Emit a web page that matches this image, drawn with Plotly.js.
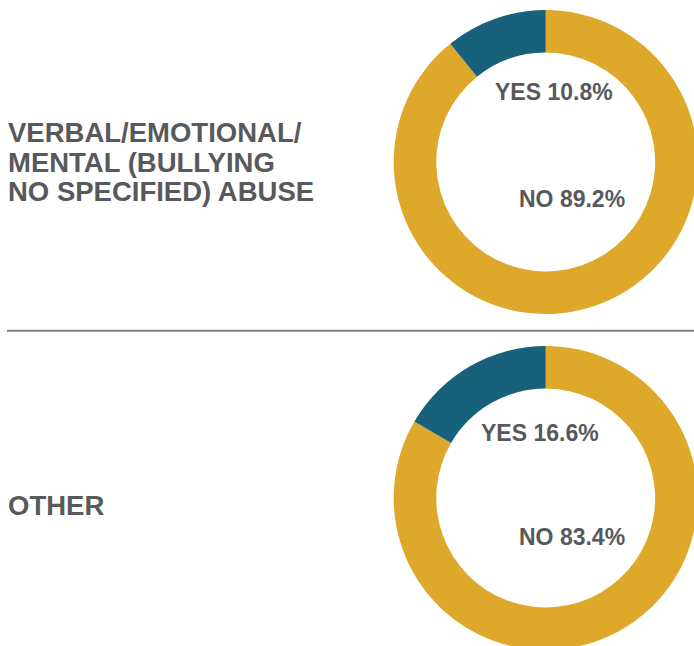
<!DOCTYPE html>
<html>
<head>
<meta charset="utf-8">
<script src="https://cdn.plot.ly/plotly-3.0.1.min.js"></script>
<style>
  html, body { margin: 0; padding: 0; overflow: hidden; background: #ffffff; }
  #chart { width: 700px; height: 660px; }
</style>
</head>
<body>
<div id="chart"></div>
<script>
// Data
const categories = ["VERBAL/EMOTIONAL/\nMENTAL (BULLYING\nNO SPECIFIED) ABUSE", "OTHER"];
const answerLabels = ["NO", "YES"];
const noValues = [89.2, 83.4];
const yesValues = [10.8, 16.6];
const sliceColors = ["#DEA82A", "#17617A"];

const W = 700, H = 660;
const textColor = "#58595B";
const font = "Liberation Sans, Arial, Helvetica, sans-serif";

// Layout positions (pixels) for each donut
const donutBoxes = [
  { cx: 545.7, cy: 162, r: 152 },
  { cx: 545.7, cy: 498, r: 152 }
];
const yesLabelPos = [[554, 92], [539.7, 433]];
const noLabelPos = [[571.7, 199], [571.7, 536.7]];
const catLabelY = [[132.5, 162.5, 191.5], [505]];

const px = x => x / W;
const py = y => 1 - y / H;

const traces = [];
const annotations = [];
categories.forEach((cat, i) => {
  const b = donutBoxes[i];
  traces.push({
    type: "pie",
    labels: answerLabels,
    values: [noValues[i], yesValues[i]],
    hole: 0.72,
    sort: false,
    direction: "clockwise",
    rotation: 0,
    textinfo: "none",
    hoverinfo: "label+percent",
    marker: { colors: sliceColors, line: { width: 0 } },
    domain: { x: [px(b.cx - b.r), px(b.cx + b.r)], y: [py(b.cy + b.r), py(b.cy - b.r)] },
    showlegend: false
  });
  annotations.push({
    text: "<b>" + answerLabels[1] + " " + yesValues[i].toFixed(1) + "%</b>",
    xref: "paper", yref: "paper", x: px(yesLabelPos[i][0]), y: py(yesLabelPos[i][1]),
    xanchor: "center", yanchor: "middle", showarrow: false,
    font: { family: font, size: 23, color: textColor }
  });
  annotations.push({
    text: "<b>" + answerLabels[0] + " " + noValues[i].toFixed(1) + "%</b>",
    xref: "paper", yref: "paper", x: px(noLabelPos[i][0]), y: py(noLabelPos[i][1]),
    xanchor: "center", yanchor: "middle", showarrow: false,
    font: { family: font, size: 23, color: textColor }
  });
  cat.split("\n").forEach((line, j) => {
    annotations.push({
      text: "<b>" + line + "</b>",
      xref: "paper", yref: "paper", x: px(6), y: py(catLabelY[i][j]),
      xanchor: "left", yanchor: "middle", showarrow: false,
      font: { family: font, size: 27.5, color: textColor }
    });
  });
});

const layout = {
  width: W, height: H,
  margin: { l: 0, r: 0, t: 0, b: 0 },
  paper_bgcolor: "#ffffff",
  plot_bgcolor: "#ffffff",
  annotations: annotations,
  shapes: [{
    type: "line", xref: "paper", yref: "paper",
    x0: px(7), x1: 1, y0: py(330.7), y1: py(330.7),
    line: { color: "#7F7F7F", width: 2 }
  }]
};

Plotly.newPlot("chart", traces, layout, { displayModeBar: false, staticPlot: true });
</script>
</body>
</html>
